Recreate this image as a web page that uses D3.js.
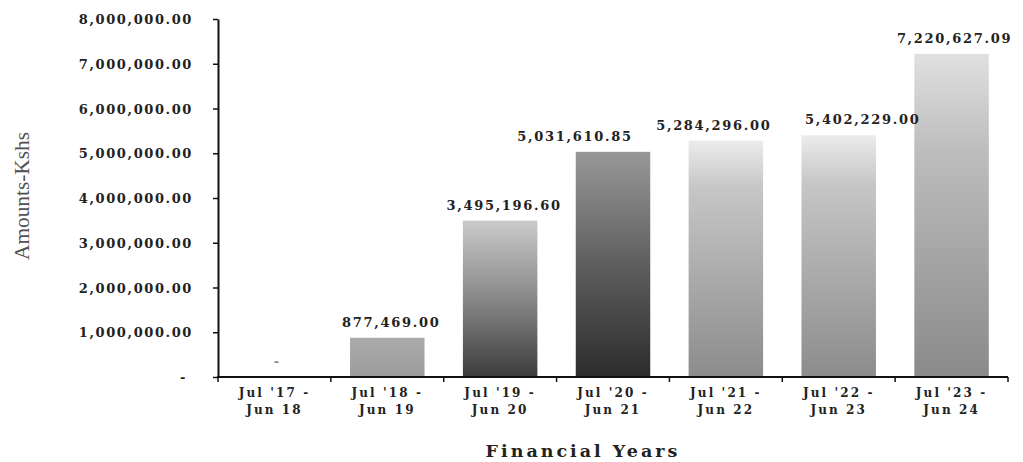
<!DOCTYPE html>
<html>
<head>
<meta charset="utf-8">
<script src="https://cdn.jsdelivr.net/npm/d3@7"></script>
<style>
  html, body { margin: 0; padding: 0; background: #fff; }
  svg { display: block; }
  .lbl { font-family: "DejaVu Serif", serif; font-weight: bold; fill: #222; }
</style>
</head>
<body>
<svg id="chart" width="1023" height="462"></svg>
<script>
// Annual amounts per financial year (Kshs)
const categories = [
  "Jul '17 - Jun 18",
  "Jul '18 - Jun 19",
  "Jul '19 - Jun 20",
  "Jul '20 - Jun 21",
  "Jul '21 - Jun 22",
  "Jul '22 - Jun 23",
  "Jul '23 - Jun 24"
];
const amounts = [0, 877469.00, 3495196.60, 5031610.85, 5284296.00, 5402229.00, 7220627.09];
const yTickValues = [0, 1000000, 2000000, 3000000, 4000000, 5000000, 6000000, 7000000, 8000000];

// Vertical grey shading for each bar: [offset, colour] stops, top to bottom
const barShading = [
  [[0, "#bdbdbd"], [1, "#9a9a9a"]],
  [[0, "#ababab"], [1, "#9c9c9c"]],
  [[0, "#cacaca"], [0.5, "#888888"], [1, "#3c3c3c"]],
  [[0, "#989898"], [0.5, "#5e5e5e"], [1, "#2c2c2c"]],
  [[0, "#ececec"], [0.2, "#c6c6c6"], [1, "#8c8c8c"]],
  [[0, "#ececec"], [0.2, "#c6c6c6"], [1, "#8c8c8c"]],
  [[0, "#e0e0e0"], [0.3, "#bdbdbd"], [1, "#8a8a8a"]]
];
// Horizontal placement tweak of each value label relative to its bar centre
const labelShift = [3, 4, 4, -38, -12, 24, 3];

const svg = d3.select("#chart");
const plot = { left: 218, right: 1008, top: 19, bottom: 377 };

const x = d3.scaleBand()
  .domain(categories)
  .range([plot.left, plot.right])
  .paddingInner(0.34)
  .paddingOuter(0.17);

const y = d3.scaleLinear()
  .domain([0, 8000000])
  .range([plot.bottom, plot.top]);

const money = d3.format(",.2f");
const fmt = v => v === 0 ? "-" : money(v);

// gradients
const defs = svg.append("defs");
barShading.forEach((stops, i) => {
  const g = defs.append("linearGradient")
    .attr("id", "shade" + i)
    .attr("x1", 0).attr("y1", 0).attr("x2", 0).attr("y2", 1);
  stops.forEach(s => g.append("stop").attr("offset", s[0]).attr("stop-color", s[1]));
});

// bars
svg.append("g")
  .selectAll("rect")
  .data(amounts)
  .join("rect")
  .attr("x", (d, i) => x(categories[i]))
  .attr("y", d => y(d))
  .attr("width", x.bandwidth())
  .attr("height", d => y(0) - y(d))
  .attr("fill", (d, i) => `url(#shade${i})`);

// value labels
svg.append("g")
  .selectAll("text")
  .data(amounts)
  .join("text")
  .attr("class", "lbl")
  .attr("x", (d, i) => x(categories[i]) + x.bandwidth() / 2 + labelShift[i])
  .attr("y", d => y(d) - 11)
  .attr("text-anchor", "middle")
  .style("font-size", "13px")
  .style("letter-spacing", "1.7px")
  .style("fill", d => d === 0 ? "#8a8a8a" : "#222")
  .text(fmt);

// y axis
const yAxis = svg.append("g")
  .attr("transform", `translate(${plot.left},0)`)
  .call(d3.axisLeft(y).tickValues(yTickValues).tickFormat(fmt).tickSize(5).tickPadding(20).tickSizeOuter(0));
yAxis.select(".domain").attr("stroke", "#111").attr("stroke-width", 2);
yAxis.selectAll(".tick line").attr("stroke", "#111").attr("stroke-width", 1.5);
yAxis.selectAll(".tick text")
  .attr("class", "lbl")
  .style("font-size", "13px")
  .style("letter-spacing", "1.6px")
  .attr("dy", "0.35em")
  .attr("dx", d => d === 0 ? -6 : 0);

// x axis: ticks sit on band boundaries
const bounds = categories.map(c => x(c) - x.step() * x.paddingInner() / 2);
bounds.push(plot.right);
const xAxis = svg.append("g");
xAxis.append("line")
  .attr("x1", plot.left - 1).attr("x2", plot.right)
  .attr("y1", plot.bottom).attr("y2", plot.bottom)
  .attr("stroke", "#111").attr("stroke-width", 2);
xAxis.selectAll("line.tk")
  .data(bounds)
  .join("line")
  .attr("class", "tk")
  .attr("x1", d => d).attr("x2", d => d)
  .attr("y1", plot.bottom).attr("y2", plot.bottom + 5)
  .attr("stroke", "#111").attr("stroke-width", 1.5);

const catText = xAxis.selectAll("text")
  .data(categories)
  .join("text")
  .attr("class", "lbl")
  .attr("text-anchor", "middle")
  .style("font-size", "12px")
  .style("letter-spacing", "2.1px")
  .attr("transform", d => `translate(${x(d) + x.bandwidth() / 2},${plot.bottom + 20})`);
catText.append("tspan")
  .attr("x", 0).attr("y", 0)
  .text(d => d.split(" - ")[0] + " -");
catText.append("tspan")
  .attr("x", 0).attr("y", 17)
  .text(d => d.split(" - ")[1]);

// axis titles
svg.append("text")
  .attr("class", "lbl")
  .attr("x", 583).attr("y", 457)
  .attr("text-anchor", "middle")
  .style("font-size", "17.5px")
  .style("letter-spacing", "3px")
  .text("Financial Years");

svg.append("text")
  .attr("transform", "translate(29,196) rotate(-90)")
  .attr("text-anchor", "middle")
  .attr("textLength", 128)
  .attr("lengthAdjust", "spacingAndGlyphs")
  .style("font-family", "'Liberation Serif', serif")
  .style("font-size", "22px")
  .style("fill", "#505050")
  .text("Amounts-Kshs");
</script>
</body>
</html>
